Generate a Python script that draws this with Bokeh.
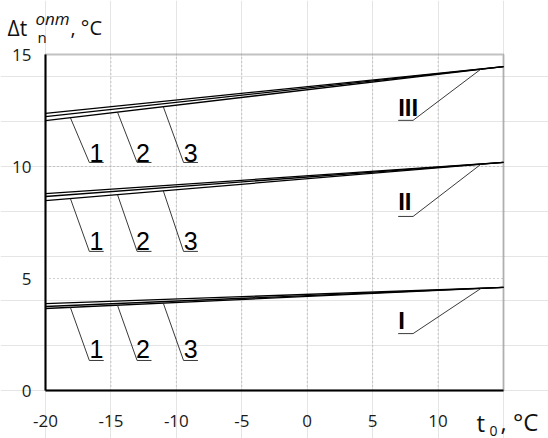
from bokeh.plotting import figure
from bokeh.models import Range1d, FixedTicker, Label, LinearAxis, BoxAnnotation
from bokeh.embed import file_html
from bokeh.resources import INLINE
from bokeh.core.properties import value
import numpy as np

# Outdoor air temperature t0, °C (ends of each straight curve)
t_outdoor = [-20, 15]

# Temperature difference Δt_n^onm, °C — three curves (1, 2, 3) per group
dt_I_1 = [3.88, 4.60]
dt_I_2 = [3.75, 4.60]
dt_I_3 = [3.66, 4.60]

dt_II_1 = [8.79, 10.18]
dt_II_2 = [8.66, 10.18]
dt_II_3 = [8.48, 10.18]

dt_III_1 = [12.37, 14.46]
dt_III_2 = [12.23, 14.46]
dt_III_3 = [12.05, 14.46]

x_ticks = [-20, -15, -10, -5, 0, 5, 10]
y_ticks = [0, 5, 10, 15]
curve_names = ["1", "2", "3"]
group_names = ["I", "II", "III"]

groups = [
    [dt_I_1, dt_I_2, dt_I_3],
    [dt_II_1, dt_II_2, dt_II_3],
    [dt_III_1, dt_III_2, dt_III_3],
]

# canvas and the rectangle that holds the axes box
W, H = 548, 438
L, R, T, B = 45, 45, 54, 48
X0, X1, Y0, Y1 = -20, 15, 0, 15
ux = (W - L - R) / (X1 - X0)
uy = (H - T - B) / (Y1 - Y0)

# the frame spans the whole canvas so that titles can sit around the axes box
p = figure(width=W, height=H,
           x_range=Range1d(X0 - L / ux, X1 + R / ux),
           y_range=Range1d(Y0 - B / uy, Y1 + T / uy),
           x_axis_location=None, y_axis_location=None,
           output_backend="svg", toolbar_location=None, title=None,
           min_border=0, min_border_left=0, min_border_right=0,
           min_border_top=0, min_border_bottom=0,
           background_fill_color="white", border_fill_color="white")
p.outline_line_color = None

def dx(px):
    return X0 + (px - L) / ux
def dy(py):
    return Y0 + (H - B - py) / uy

# dotted grid
gx = x_ticks[1:]
p.segment(x0=gx, y0=[Y0] * len(gx), x1=gx, y1=[Y1] * len(gx),
          line_color="#a0a0a0", line_dash="1 3", line_width=1)
gy = y_ticks[1:-1]
p.segment(x0=[X0] * len(gy), y0=gy, x1=[X1] * len(gy), y1=gy,
          line_color="#a0a0a0", line_dash="1 3", line_width=1)

# box border (top and right)
p.add_layout(BoxAnnotation(left=X0, right=X1, bottom=Y0, top=Y1, fill_alpha=0,
                           line_color="#333333", line_width=2, level="underlay"))

# axes pinned to the box edges
xaxis = LinearAxis(fixed_location=Y0, bounds=(X0, X1), ticker=FixedTicker(ticks=x_ticks))
yaxis = LinearAxis(fixed_location=X0, bounds=(Y0, Y1), ticker=FixedTicker(ticks=y_ticks))
xaxis.major_label_overrides = {t: str(t) for t in x_ticks}
for ax in (xaxis, yaxis):
    ax.axis_line_width = 2
    ax.axis_line_color = "black"
    ax.major_tick_in = 0
    ax.major_tick_out = 0
    ax.minor_tick_in = 0
    ax.minor_tick_out = 0
    ax.major_label_text_font = "Open Sans"
    ax.major_label_text_font_size = "17px"
    ax.major_label_text_color = "#1a1a1a"
xaxis.major_label_standoff = 24
yaxis.major_label_standoff = 14
p.add_layout(xaxis, "below")
p.add_layout(yaxis, "left")

# curves
for grp in groups:
    for curve in grp:
        p.line(t_outdoor, curve, line_color="black", line_width=1.3)

# leaders and numbers for curves 1, 2, 3
lead_start = [-18.1, -14.5, -11.0]
lead_bend = [-16.65, -13.0, -9.45]
lead_end = [-15.55, -11.9, -8.35]
num_x = [-16.1, -12.55, -8.9]
bend_y = [1.34, 6.21, 10.18]
num_y = [1.85, 6.67, 10.6]
for gi, grp in enumerate(groups):
    lower = grp[-1]
    for k in range(3):
        sy = float(np.interp(lead_start[k], t_outdoor, lower))
        p.line([lead_start[k], lead_bend[k], lead_end[k]], [sy, bend_y[gi], bend_y[gi]],
               line_color="#222222", line_width=0.9)
    p.text(x=num_x, y=[num_y[gi]] * 3, text=curve_names,
           text_font=value("Liberation Sans"), text_font_size="25px",
           text_align="center", text_baseline="middle", text_color="black")

# leaders and group numerals
g_start = 13.3
g_bend = 8.09
g_end = 6.95
g_bend_y = [2.54, 7.77, 12.06]
g_text_y = [3.13, 8.44, 12.63]
for gi, grp in enumerate(groups):
    top = grp[0]
    sy = float(np.interp(g_start, t_outdoor, top))
    p.line([g_start, g_bend, g_end], [sy, g_bend_y[gi], g_bend_y[gi]],
           line_color="#222222", line_width=0.9)
p.text(x=[g_end] * 3, y=g_text_y, text=group_names,
       text_font=value("'Liberation Sans Narrow', 'Liberation Sans'"), text_font_size="24px",
       text_font_style="bold",
       text_align="left", text_baseline="middle", text_color="black")

# axis titles built from pieces (sub/superscripts); px/py give the left edge and vertical centre
def put(txt, px, py, size, style="normal", font="Open Sans"):
    p.add_layout(Label(x=dx(px), y=dy(py), text=txt, text_font=font,
                       text_font_size=size, text_font_style=style,
                       text_align="left", text_baseline="middle",
                       text_color="#111111"))

put("\u0394t", 7, 27, "21px")
put("onm", 35, 18, "17px", style="italic")
put("n", 37, 36, "15px")
put(", \u00b0C", 70, 27, "20px")

put("t", 476, 422, "24px")
put("0", 489, 430, "14px")
put(", \u00b0C", 500, 421, "24px")

open("out.html", "w").write(file_html(p, INLINE))
